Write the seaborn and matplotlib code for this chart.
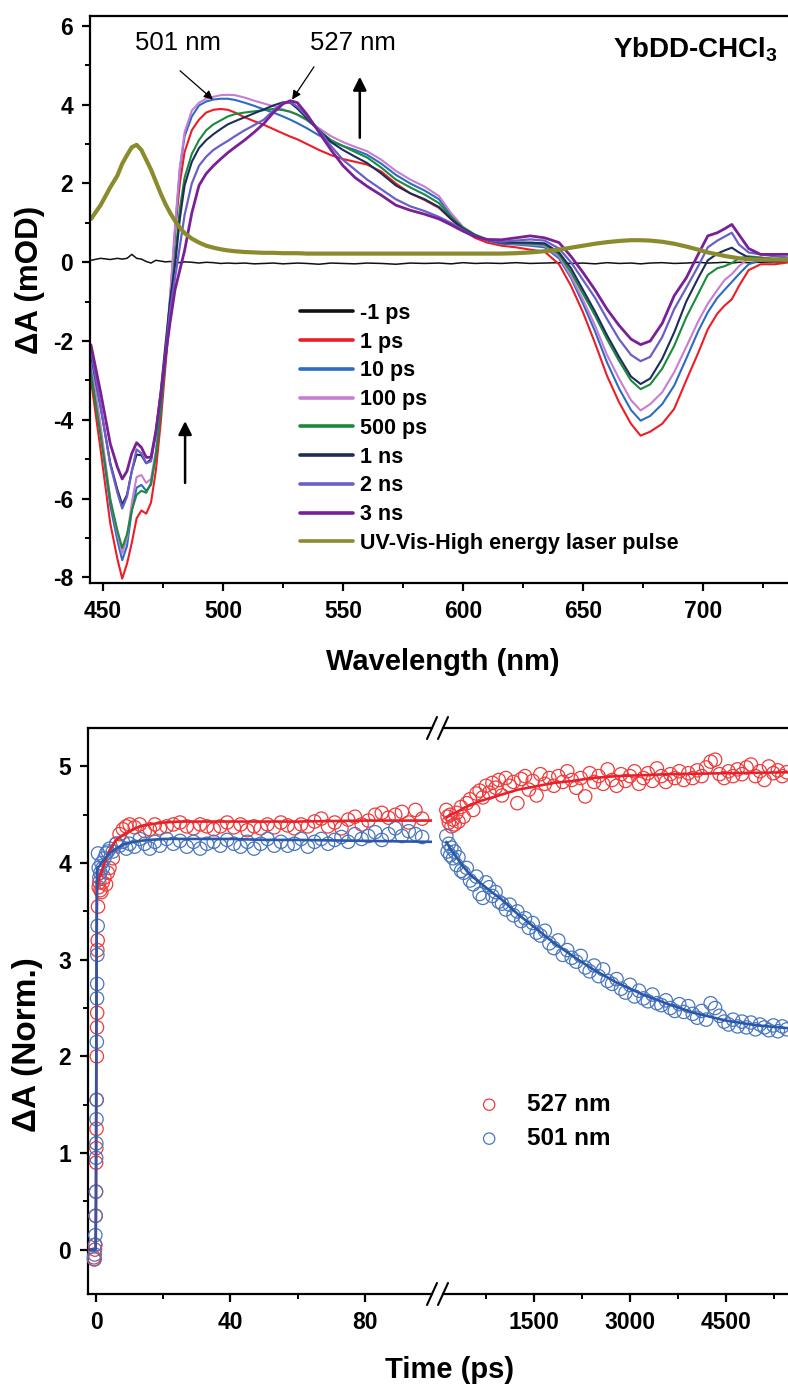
import matplotlib
matplotlib.use("Agg")
import matplotlib.pyplot as plt
from matplotlib.lines import Line2D
from matplotlib.ticker import MultipleLocator, FixedLocator
import seaborn as sns

# ---------------- transient absorption spectra (mOD) ----------------
wavelength = [445, 449, 453, 456, 458, 460, 462, 464, 466, 468, 470, 472, 474, 476, 478,
              480, 482, 484, 487, 490, 493, 496, 499, 502, 505, 509, 513, 517, 521, 525,
              528, 531, 535, 540, 545, 550, 555, 560, 566, 572, 578, 584, 590, 595, 600,
              605, 610, 616, 622, 628, 634, 640, 645, 650, 655, 660, 665, 670, 674, 678,
              683, 688, 693, 698, 702, 706, 709, 712, 715, 719, 724, 730, 736, 740]

spec_m1ps = [0.05, 0.1, 0.07, 0.1, 0.08, 0.1, 0.2, 0.1, 0.08, 0.02, -0.02, 0.05, 0.03, 0.01, 0.02,
             0.0, -0.01, 0.01, 0.0, -0.02, 0.0, -0.01, -0.03, -0.02, -0.03, -0.02, -0.04, -0.03, -0.02, -0.04,
             -0.03, -0.02, -0.03, -0.05, -0.02, -0.03, -0.04, -0.02, -0.03, -0.05, -0.02, -0.03, -0.02, -0.04, -0.01,
             -0.03, -0.02, -0.03, -0.01, -0.03, -0.02, -0.01, -0.03, -0.02, -0.04, -0.01, -0.03, -0.02, -0.04, -0.02,
             -0.01, -0.03, -0.02, 0.0, -0.02, -0.01, 0.0, -0.02, 0.0, -0.01, 0.0, 0.01, 0.0, 0.0]

spec_1ps = [-3.0, -4.76, -6.62, -7.53, -8.03, -7.65, -7.12, -6.5, -6.3, -6.38, -6.1, -5.3, -4.1, -2.65, -1.25,
            0.75, 2.0, 2.8, 3.35, 3.62, 3.8, 3.87, 3.89, 3.87, 3.8, 3.68, 3.58, 3.49, 3.38, 3.27,
            3.19, 3.12, 3.0, 2.85, 2.72, 2.62, 2.55, 2.48, 2.3, 2.0, 1.75, 1.58, 1.38, 1.1, 0.82,
            0.62, 0.5, 0.42, 0.38, 0.32, 0.27, -0.05, -0.6, -1.27, -2.05, -2.88, -3.55, -4.1, -4.4, -4.3,
            -4.1, -3.72, -3.0, -2.3, -1.7, -1.3, -1.1, -0.94, -0.6, -0.2, -0.05, -0.05, 0.0, 0.0]

spec_10ps = [-2.6, -4.34, -6.17, -7.06, -7.56, -7.2, -6.3, -5.72, -5.65, -5.8, -5.65, -4.9, -3.8, -2.4, -0.9,
             0.8, 2.35, 3.2, 3.7, 3.98, 4.08, 4.13, 4.15, 4.15, 4.12, 4.05, 3.97, 3.88, 3.8, 3.7,
             3.62, 3.53, 3.4, 3.22, 3.07, 2.95, 2.85, 2.73, 2.5, 2.22, 2.0, 1.82, 1.6, 1.2, 0.86,
             0.68, 0.55, 0.47, 0.45, 0.42, 0.38, 0.1, -0.4, -1.05, -1.75, -2.54, -3.2, -3.75, -4.02, -3.9,
             -3.6, -3.13, -2.45, -1.75, -1.27, -0.9, -0.7, -0.5, -0.3, -0.05, 0.05, 0.05, 0.05, 0.05]

spec_100ps = [-2.4, -4.15, -5.99, -6.89, -7.39, -7.0, -6.1, -5.45, -5.4, -5.6, -5.5, -4.8, -3.7, -2.3, -0.8,
              0.9, 2.4, 3.3, 3.85, 4.05, 4.15, 4.2, 4.24, 4.25, 4.24, 4.18, 4.1, 4.03, 3.96, 3.88,
              3.82, 3.74, 3.6, 3.4, 3.2, 3.05, 2.93, 2.82, 2.6, 2.32, 2.1, 1.92, 1.68, 1.25, 0.9,
              0.7, 0.58, 0.5, 0.47, 0.45, 0.42, 0.15, -0.35, -0.95, -1.6, -2.35, -2.95, -3.5, -3.76, -3.6,
              -3.3, -2.79, -2.15, -1.5, -1.05, -0.7, -0.45, -0.3, -0.1, 0.1, 0.12, 0.08, 0.05, 0.05]

spec_500ps = [-2.85, -4.39, -6.02, -6.81, -7.25, -6.9, -6.3, -5.9, -5.8, -5.85, -5.6, -4.9, -3.8, -2.5, -1.1,
              0.1, 1.35, 2.15, 2.75, 3.1, 3.35, 3.5, 3.6, 3.7, 3.76, 3.8, 3.83, 3.86, 3.89, 3.86,
              3.82, 3.75, 3.62, 3.35, 3.1, 2.95, 2.8, 2.66, 2.4, 2.1, 1.9, 1.72, 1.5, 1.15, 0.88,
              0.7, 0.58, 0.5, 0.48, 0.47, 0.45, 0.2, -0.25, -0.8, -1.35, -1.95, -2.5, -3.0, -3.22, -3.1,
              -2.7, -2.12, -1.4, -0.8, -0.32, -0.15, -0.1, -0.02, 0.1, 0.15, 0.12, 0.08, 0.05, 0.05]

spec_1ns = [-2.35, -3.68, -5.09, -5.77, -6.15, -5.9, -5.3, -4.88, -4.9, -5.1, -5.0, -4.3, -3.3, -2.1, -0.95,
            -0.1, 1.1, 1.95, 2.55, 2.9, 3.1, 3.25, 3.38, 3.5, 3.58, 3.68, 3.78, 3.88, 3.98, 4.06,
            4.05, 3.9, 3.65, 3.35, 3.05, 2.85, 2.68, 2.52, 2.25, 1.95, 1.75, 1.6, 1.4, 1.1, 0.85,
            0.68, 0.57, 0.5, 0.5, 0.5, 0.48, 0.25, -0.15, -0.7, -1.25, -1.85, -2.4, -2.9, -3.09, -2.95,
            -2.45, -1.78, -1.0, -0.4, 0.05, 0.22, 0.3, 0.37, 0.25, 0.12, 0.1, 0.08, 0.05, 0.05]

spec_2ns = [-2.25, -3.65, -5.13, -5.85, -6.25, -5.95, -5.3, -4.75, -4.85, -5.1, -5.05, -4.35, -3.4, -2.3, -1.2,
            -0.4, 0.4, 1.2, 2.0, 2.45, 2.68, 2.85, 2.97, 3.08, 3.2, 3.35, 3.48, 3.62, 3.85, 4.05,
            4.07, 3.95, 3.7, 3.35, 2.95, 2.6, 2.35, 2.1, 1.85, 1.6, 1.42, 1.3, 1.15, 1.0, 0.82,
            0.66, 0.57, 0.52, 0.55, 0.58, 0.55, 0.35, 0.0, -0.45, -0.9, -1.44, -1.95, -2.35, -2.51, -2.4,
            -1.9, -1.19, -0.65, -0.1, 0.38, 0.55, 0.65, 0.75, 0.45, 0.25, 0.2, 0.15, 0.12, 0.1]

spec_3ns = [-2.1, -3.3, -4.6, -5.2, -5.5, -5.3, -4.85, -4.58, -4.7, -4.95, -4.95, -4.3, -3.4, -2.4, -1.5,
            -0.7, -0.2, 0.3, 1.25, 1.95, 2.25, 2.45, 2.62, 2.78, 2.92, 3.1, 3.3, 3.52, 3.8, 4.02,
            4.1, 4.05, 3.75, 3.3, 2.85, 2.45, 2.15, 1.93, 1.7, 1.45, 1.32, 1.22, 1.1, 0.95, 0.79,
            0.65, 0.58, 0.57, 0.62, 0.67, 0.62, 0.5, 0.15, -0.26, -0.7, -1.19, -1.6, -1.95, -2.09, -2.0,
            -1.55, -0.85, -0.4, 0.2, 0.67, 0.75, 0.85, 0.96, 0.7, 0.35, 0.2, 0.2, 0.2, 0.2]

spec_pulse = [1.1, 1.45, 1.9, 2.2, 2.5, 2.72, 2.92, 2.98, 2.85, 2.6, 2.35, 2.05, 1.75, 1.48, 1.25,
              1.05, 0.88, 0.74, 0.6, 0.5, 0.42, 0.37, 0.33, 0.3, 0.28, 0.26, 0.25, 0.24, 0.24, 0.23,
              0.23, 0.23, 0.22, 0.22, 0.22, 0.22, 0.22, 0.22, 0.22, 0.22, 0.22, 0.22, 0.22, 0.22, 0.22,
              0.22, 0.22, 0.22, 0.23, 0.25, 0.28, 0.32, 0.37, 0.42, 0.47, 0.51, 0.54, 0.56, 0.56, 0.55,
              0.52, 0.47, 0.4, 0.32, 0.25, 0.2, 0.16, 0.13, 0.1, 0.08, 0.07, 0.07, 0.07, 0.07]

spec_labels = ["-1 ps", "1 ps", "10 ps", "100 ps", "500 ps", "1 ns", "2 ns", "3 ns",
               "UV-Vis-High energy laser pulse"]
spec_values = [spec_m1ps, spec_1ps, spec_10ps, spec_100ps, spec_500ps,
               spec_1ns, spec_2ns, spec_3ns, spec_pulse]
spec_colors = ["#111111", "#ee1c25", "#2b6cc4", "#c77dd3", "#1a8a3c",
               "#1c2d5a", "#6a5fc8", "#7a2096", "#8a8b2c"]
spec_widths = [1.1, 1.5, 1.5, 1.5, 1.5, 1.5, 1.6, 2.0, 3.0]

# ---------------- kinetic traces (normalised) ----------------
# early delays, 0-100 ps
t_short = [-0.6, -0.4, -0.3, -0.2, -0.1, 0.0, 0.05, 0.1, 0.15, 0.2, 0.25, 0.3, 0.35, 0.4, 0.5,
           0.6, 0.8, 1.0, 1.3, 1.6, 2.0, 2.5, 3, 3.5, 4, 5, 6, 7, 8, 9,
           10, 11.5, 13, 14.5, 16, 17.5, 19, 21, 23, 25, 27, 29, 31, 33, 35,
           37, 39, 41, 43, 45, 47, 49, 51, 53, 55, 57, 59, 61, 63, 65,
           67, 69, 71, 73, 75, 77, 79, 81, 83, 85, 87, 89, 91, 93, 95, 97]
dA527_short = [-0.08, -0.1, 0.0, 0.05, 0.35, 0.6, 0.9, 1.05, 1.25, 1.55, 2.0, 2.3, 2.45, 3.1, 3.2,
               3.55, 3.75, 3.8, 3.72, 3.7, 3.8, 3.85, 3.78, 3.9, 3.95, 4.05, 4.2, 4.3, 4.35, 4.38,
               4.4, 4.37, 4.4, 4.33, 4.35, 4.4, 4.36, 4.38, 4.4, 4.42, 4.38, 4.36, 4.4, 4.38, 4.35,
               4.38, 4.42, 4.37, 4.4, 4.34, 4.38, 4.36, 4.4, 4.37, 4.42, 4.39, 4.36, 4.4, 4.38, 4.43,
               4.46, 4.38, 4.42, 4.36, 4.45, 4.48, 4.4, 4.44, 4.5, 4.52, 4.47, 4.5, 4.53, 4.42, 4.55, 4.46]
dA501_short = [-0.1, -0.05, 0.05, 0.15, 0.35, 0.6, 0.95, 1.1, 1.35, 1.55, 2.15, 2.6, 2.75, 3.05, 3.35,
               4.1, 3.95, 3.85, 3.9, 4.0, 3.95, 4.05, 4.1, 4.12, 4.15, 4.12, 4.2, 4.18, 4.22, 4.15,
               4.2, 4.17, 4.25, 4.2, 4.15, 4.22, 4.18, 4.25, 4.2, 4.23, 4.17, 4.22, 4.15, 4.2, 4.22,
               4.18, 4.24, 4.2, 4.17, 4.22, 4.15, 4.2, 4.25, 4.18, 4.22, 4.18, 4.2, 4.25, 4.17, 4.22,
               4.25, 4.2, 4.24, 4.27, 4.22, 4.3, 4.25, 4.28, 4.32, 4.24, 4.3, 4.36, 4.28, 4.33, 4.3, 4.27]
tfit_short = [-2.0, -0.1, 0.0, 0.1, 0.2, 0.3, 0.5, 1, 2, 3, 4, 6, 8, 10, 13, 16, 20, 25, 30, 40,
              50, 60, 80, 100]
fit527_short = [0.0, 0.0, 0.5, 1.8, 3.2, 3.7, 3.8, 3.85, 3.95, 4.05, 4.13, 4.24, 4.29, 4.33, 4.38,
                4.4, 4.42, 4.43, 4.43, 4.43, 4.43, 4.43, 4.44, 4.44]
fit501_short = [0.0, 0.0, 0.6, 2.2, 3.5, 3.9, 3.95, 3.97, 4.02, 4.06, 4.1, 4.15, 4.19, 4.21, 4.23,
                4.24, 4.25, 4.25, 4.25, 4.25, 4.24, 4.24, 4.23, 4.22]

# late delays, 0.1-5.5 ns
t_long = [130, 150, 170, 190, 210, 235, 260, 290, 320, 360, 400, 450, 500, 550, 600,
          650, 700, 750, 800, 850, 900, 950, 1000, 1060, 1120, 1180, 1240, 1300, 1360, 1420,
          1480, 1540, 1600, 1670, 1740, 1810, 1880, 1950, 2020, 2090, 2160, 2230, 2300, 2370, 2440,
          2510, 2580, 2650, 2720, 2790, 2860, 2930, 3000, 3070, 3140, 3210, 3280, 3350, 3420, 3490,
          3560, 3630, 3700, 3770, 3840, 3910, 3980, 4050, 4120, 4190, 4260, 4330, 4400, 4470, 4540,
          4610, 4680, 4750, 4820, 4890, 4960, 5030, 5100, 5170, 5240, 5310, 5380, 5450]
dA527_long = [4.55, 4.48, 4.42, 4.50, 4.38, 4.45, 4.40, 4.52, 4.43, 4.58, 4.48, 4.62, 4.66, 4.55, 4.72,
              4.75, 4.68, 4.80, 4.73, 4.83, 4.78, 4.86, 4.70, 4.88, 4.80, 4.84, 4.62, 4.87, 4.90, 4.76,
              4.85, 4.70, 4.92, 4.82, 4.88, 4.80, 4.90, 4.84, 4.95, 4.86, 4.78, 4.88, 4.69, 4.93, 4.84,
              4.90, 4.82, 4.97, 4.86, 4.80, 4.92, 4.85, 4.90, 4.95, 4.82, 4.88, 4.93, 4.85, 4.98, 4.90,
              4.84, 4.92, 4.88, 4.95, 4.86, 4.93, 4.88, 4.96, 4.90, 4.99, 5.05, 5.07, 4.92, 4.88, 4.95,
              4.90, 4.97, 4.92, 4.99, 5.02, 4.90, 4.95, 4.86, 5.00, 4.93, 4.96, 4.90, 4.94]
dA501_long = [4.28, 4.12, 4.20, 4.08, 4.16, 4.05, 4.12, 3.98, 4.06, 3.92, 3.90, 3.95, 3.82, 3.78, 3.86,
              3.68, 3.64, 3.80, 3.75, 3.66, 3.70, 3.60, 3.58, 3.52, 3.57, 3.46, 3.50, 3.40, 3.43, 3.33,
              3.38, 3.28, 3.25, 3.30, 3.17, 3.12, 3.20, 3.05, 3.10, 3.02, 2.98, 3.04, 2.92, 2.88, 2.94,
              2.83, 2.90, 2.78, 2.75, 2.80, 2.70, 2.66, 2.74, 2.62, 2.68, 2.60, 2.57, 2.64, 2.55, 2.53,
              2.58, 2.50, 2.47, 2.54, 2.46, 2.52, 2.44, 2.40, 2.47, 2.38, 2.55, 2.50, 2.42, 2.36, 2.33,
              2.38, 2.31, 2.36, 2.30, 2.35, 2.28, 2.33, 2.30, 2.27, 2.32, 2.26, 2.31, 2.28]
tfit_long = [130, 200, 300, 400, 500, 650, 800, 1000, 1250, 1500, 1800, 2100, 2400, 2800, 3200,
             3600, 4000, 4500, 5000, 5500]
fit527_long = [4.47, 4.50, 4.53, 4.57, 4.60, 4.64, 4.67, 4.71, 4.76, 4.79, 4.83, 4.85, 4.88, 4.90, 4.91,
               4.92, 4.925, 4.93, 4.935, 4.94]
fit501_long = [4.22, 4.14, 4.05, 3.96, 3.88, 3.80, 3.72, 3.62, 3.47, 3.34, 3.18, 3.04, 2.91, 2.76, 2.64,
               2.54, 2.45, 2.37, 2.32, 2.29]

red_pts, blue_pts = "#ef3b3b", "#4a76bf"
red_fit, blue_fit = "#e8202a", "#2b58a6"

# ---------------- style ----------------
sns.set_theme(style="ticks")
plt.rcParams.update({
    "font.family": ["Liberation Sans", "DejaVu Sans"],
    "font.weight": "bold",
    "axes.labelweight": "bold",
    "axes.unicode_minus": False,
    "mathtext.fontset": "custom",
    "mathtext.rm": "Liberation Sans",
    "mathtext.bf": "Liberation Sans:bold",
    "text.color": "black",
    "axes.labelcolor": "black",
    "axes.edgecolor": "black",
    "axes.linewidth": 1.6,
    "xtick.color": "black", "ytick.color": "black",
    "xtick.direction": "out", "ytick.direction": "out",
    "xtick.major.size": 6, "ytick.major.size": 6,
    "xtick.minor.size": 3.5, "ytick.minor.size": 3.5,
    "xtick.major.width": 1.6, "ytick.major.width": 1.6,
    "xtick.minor.width": 1.4, "ytick.minor.width": 1.4,
    "xtick.labelsize": 16.5, "ytick.labelsize": 16.5,
    "xtick.major.pad": 6.5, "ytick.major.pad": 6,
})

W, H = 788, 1388
fig = plt.figure(figsize=(W / 100, H / 100), dpi=100)


def box(left, top, right, bottom):
    return [left / W, 1 - bottom / H, (right - left) / W, (bottom - top) / H]


ax1 = fig.add_axes(box(90, 16, 788, 583))
axL = fig.add_axes(box(88, 728, 432, 1294))
axR = fig.add_axes(box(443, 728, 788, 1294))

# ---------------- spectra panel ----------------
for lab, vals, col, lw in zip(spec_labels, spec_values, spec_colors, spec_widths):
    sns.lineplot(x=wavelength, y=vals, ax=ax1, color=col, lw=lw, label=lab,
                 sort=False, estimator=None)

ax1.set_xlim(444.58, 735.42)
ax1.set_ylim(-8.14, 6.25)
ax1.xaxis.set_major_locator(MultipleLocator(50))
ax1.xaxis.set_minor_locator(MultipleLocator(25))
ax1.yaxis.set_major_locator(MultipleLocator(2))
ax1.yaxis.set_minor_locator(MultipleLocator(1))
ax1.spines["right"].set_visible(False)
ax1.set_xlabel("Wavelength (nm)", fontsize=21)
ax1.set_ylabel("ΔA (mOD)", fontsize=22.5)
ax1.xaxis.set_label_coords(0.505, -0.115)
ax1.yaxis.set_label_coords(-0.065, 0.535)

leg = ax1.legend(loc="upper left", bbox_to_anchor=(0.3009, 0.494), frameon=False,
                 fontsize=15.5, handlelength=2.47, handletextpad=0.33,
                 labelspacing=0.36, borderpad=0, borderaxespad=0)
for ln in leg.get_lines():
    ln.set_linewidth(2.6)

ax1.text(0.0645, 0.940, "501 nm", transform=ax1.transAxes, fontsize=18.5,
         fontweight="normal", va="baseline", ha="left")
ax1.text(0.315, 0.940, "527 nm", transform=ax1.transAxes, fontsize=18.5,
         fontweight="normal", va="baseline", ha="left")
ax1.text(0.749, 0.928, r"YbDD-CHCl$_\mathbf{3}$", transform=ax1.transAxes,
         fontsize=20, va="baseline", ha="left")

thin = dict(arrowstyle="-|>", lw=0.9, color="black", mutation_scale=13,
            shrinkA=0, shrinkB=0)
ax1.annotate("", xy=(495.8, 4.13), xytext=(482.1, 4.86), arrowprops=thin)
ax1.annotate("", xy=(528.8, 4.13), xytext=(537.9, 4.96), arrowprops=thin)
thick = dict(arrowstyle="-|>", lw=1.8, color="black", mutation_scale=20,
             shrinkA=0, shrinkB=0)
ax1.annotate("", xy=(557.0, 4.71), xytext=(557.0, 3.16), arrowprops=thick)
ax1.annotate("", xy=(484.2, -4.03), xytext=(484.2, -5.6), arrowprops=thick)

# ---------------- kinetics panel ----------------
mk = dict(marker="o", s=92, linewidth=0.9, clip_on=False, zorder=3)
sns.scatterplot(x=t_short, y=dA527_short, ax=axL, color=red_pts, facecolor="none",
                edgecolor=red_pts, **mk)
sns.scatterplot(x=t_short, y=dA501_short, ax=axL, color=blue_pts, facecolor="none",
                edgecolor=blue_pts, **mk)
sns.lineplot(x=tfit_short, y=fit527_short, ax=axL, color=red_fit, lw=1.9,
             sort=False, estimator=None, zorder=4)
sns.lineplot(x=tfit_short, y=fit501_short, ax=axL, color=blue_fit, lw=1.9,
             sort=False, estimator=None, zorder=4)

sns.scatterplot(x=t_long, y=dA527_long, ax=axR, color=red_pts, facecolor="none",
                edgecolor=red_pts, label="527 nm", **mk)
sns.scatterplot(x=t_long, y=dA501_long, ax=axR, color=blue_pts, facecolor="none",
                edgecolor=blue_pts, label="501 nm", **mk)
sns.lineplot(x=tfit_long, y=fit527_long, ax=axR, color=red_fit, lw=1.9,
             sort=False, estimator=None, zorder=4)
sns.lineplot(x=tfit_long, y=fit501_long, ax=axR, color=blue_fit, lw=1.9,
             sort=False, estimator=None, zorder=4)

for ax in (axL, axR):
    ax.set_ylim(-0.459, 5.398)
axL.set_xlim(-2.38, 99.93)
axR.set_xlim(78.1, 5468.75)

axL.xaxis.set_major_locator(FixedLocator([0, 40, 80]))
axL.xaxis.set_minor_locator(FixedLocator([20, 60]))
axL.yaxis.set_major_locator(MultipleLocator(1))
axL.yaxis.set_minor_locator(MultipleLocator(0.5))
axL.spines["right"].set_visible(False)

axR.xaxis.set_major_locator(FixedLocator([1500, 3000, 4500]))
axR.xaxis.set_minor_locator(FixedLocator([750, 2250, 3750, 5250]))
axR.set_yticks([])
axR.spines["left"].set_visible(False)
axR.spines["right"].set_visible(False)

axL.set_ylabel("ΔA (Norm.)", fontsize=24)
axL.yaxis.set_label_coords(-0.13, 0.44)
axL.set_xlabel("")
axR.set_xlabel("")
fig.text(450 / W, 1 - 1370 / H, "Time (ps)", fontsize=21, ha="center", va="center")

leg2 = axR.legend(loc="upper left", bbox_to_anchor=(0.0986, 0.355), frameon=False,
                  fontsize=17.5, handlelength=1.0, handletextpad=1.06,
                  labelspacing=0.45, borderpad=0, borderaxespad=0, markerscale=0.85)

# axis-break marks
for y0 in (728, 1294):
    for x0 in (427, 438):
        fig.add_artist(Line2D([x0 / W, (x0 + 10) / W],
                              [1 - (y0 + 11) / H, 1 - (y0 - 11) / H],
                              transform=fig.transFigure, color="black", lw=1.5))

fig.savefig("out.png", dpi=100)
